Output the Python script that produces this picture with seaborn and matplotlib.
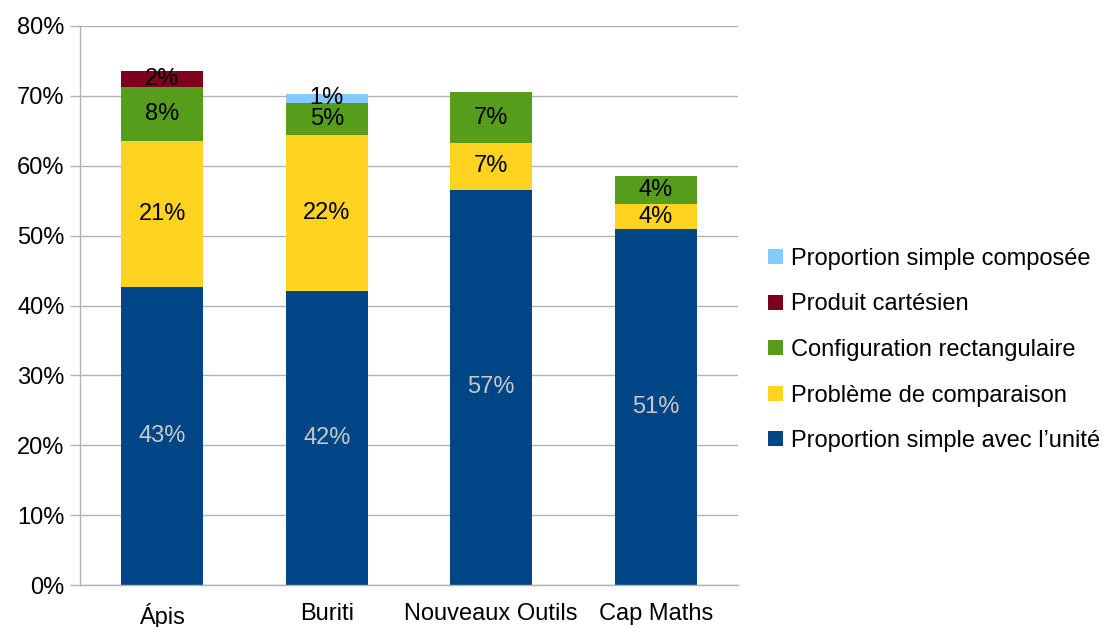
import numpy as np
import pandas as pd
import matplotlib
matplotlib.use('Agg')
import matplotlib.pyplot as plt
from matplotlib.patches import Patch
from matplotlib.ticker import PercentFormatter, FixedLocator
import seaborn as sns

sns.set_theme(style="white")
plt.rcParams['font.family'] = ['Liberation Sans', 'DejaVu Sans']

# ---- data (percent) ----
manuels = ["Ápis", "Buriti", "Nouveaux Outils", "Cap Maths"]
series = [
    "Proportion simple avec l’unité",
    "Problème de comparaison",
    "Configuration rectangulaire",
    "Produit cartésien",
    "Proportion simple composée",
]
prop_unite    = [42.6, 42.1, 56.6, 50.9]
comparaison   = [20.9, 22.3, 6.6, 3.6]
config_rect   = [7.7, 4.6, 7.3, 4.1]
cartesien     = [2.3, 0.0, 0.0, 0.0]
prop_composee = [0.0, 1.3, 0.0, 0.0]
colors = ["#004586", "#ffd320", "#579d1c", "#7e0021", "#83caff"]
label_colors = ["#c8c8c8", "black", "black", "black", "black"]

values = [prop_unite, comparaison, config_rect, cartesien, prop_composee]
FS = 17

fig = plt.figure(figsize=(11.16, 6.27), dpi=100)
ax = fig.add_axes([80 / 1116, 42 / 627, 658 / 1116, 559 / 627])

# stacked bars, one layer per series
bottom = np.zeros(len(manuels))
for name, vals, col, lcol in zip(series, values, colors, label_colors):
    vals = np.array(vals)
    sns.barplot(x=manuels, y=vals, order=manuels, color=col, width=0.5,
                bottom=bottom, ax=ax, linewidth=0, saturation=1)
    for i, v in enumerate(vals):
        if v > 0:
            ax.text(i, bottom[i] + v / 2, f"{round(v):.0f}%", ha='center', va='center',
                    fontsize=FS, color=lcol)
    bottom = bottom + vals

ax.set_ylim(0, 80)
ax.set_xlim(-0.5, 3.5)
ax.yaxis.set_major_locator(FixedLocator(np.arange(0, 81, 10)))
ax.yaxis.set_major_formatter(PercentFormatter(decimals=0))
ax.grid(axis='y', color='#b3b3b3', linewidth=1)
ax.set_axisbelow(True)
for s in ['top', 'right']:
    ax.spines[s].set_visible(False)
for s in ['left', 'bottom']:
    ax.spines[s].set_color('#b3b3b3')
    ax.spines[s].set_linewidth(1)

# tick marks sit between the categories
ax.set_xticks(np.arange(-0.5, 3.6, 1), minor=True)
ax.tick_params(axis='x', which='major', length=0, pad=13, labelsize=FS, labelcolor='black')
ax.tick_params(axis='x', which='minor', length=8, color='#b3b3b3', width=1)
ax.tick_params(axis='y', which='major', length=7, color='#b3b3b3', width=1, pad=4,
               labelsize=FS, left=True, labelcolor='black')
ax.set_xlabel("")
ax.set_ylabel("")

handles = [Patch(facecolor=c, edgecolor='none') for c in colors]
fig.legend(handles[::-1], series[::-1], loc='center left',
           bbox_to_anchor=(759 / 1116, 1 - 350 / 627), borderaxespad=0,
           frameon=False, fontsize=FS, handlelength=0.6, handleheight=0.6,
           handletextpad=0.35, labelspacing=1.0, labelcolor='black')

fig.savefig("out.png", dpi=100)
